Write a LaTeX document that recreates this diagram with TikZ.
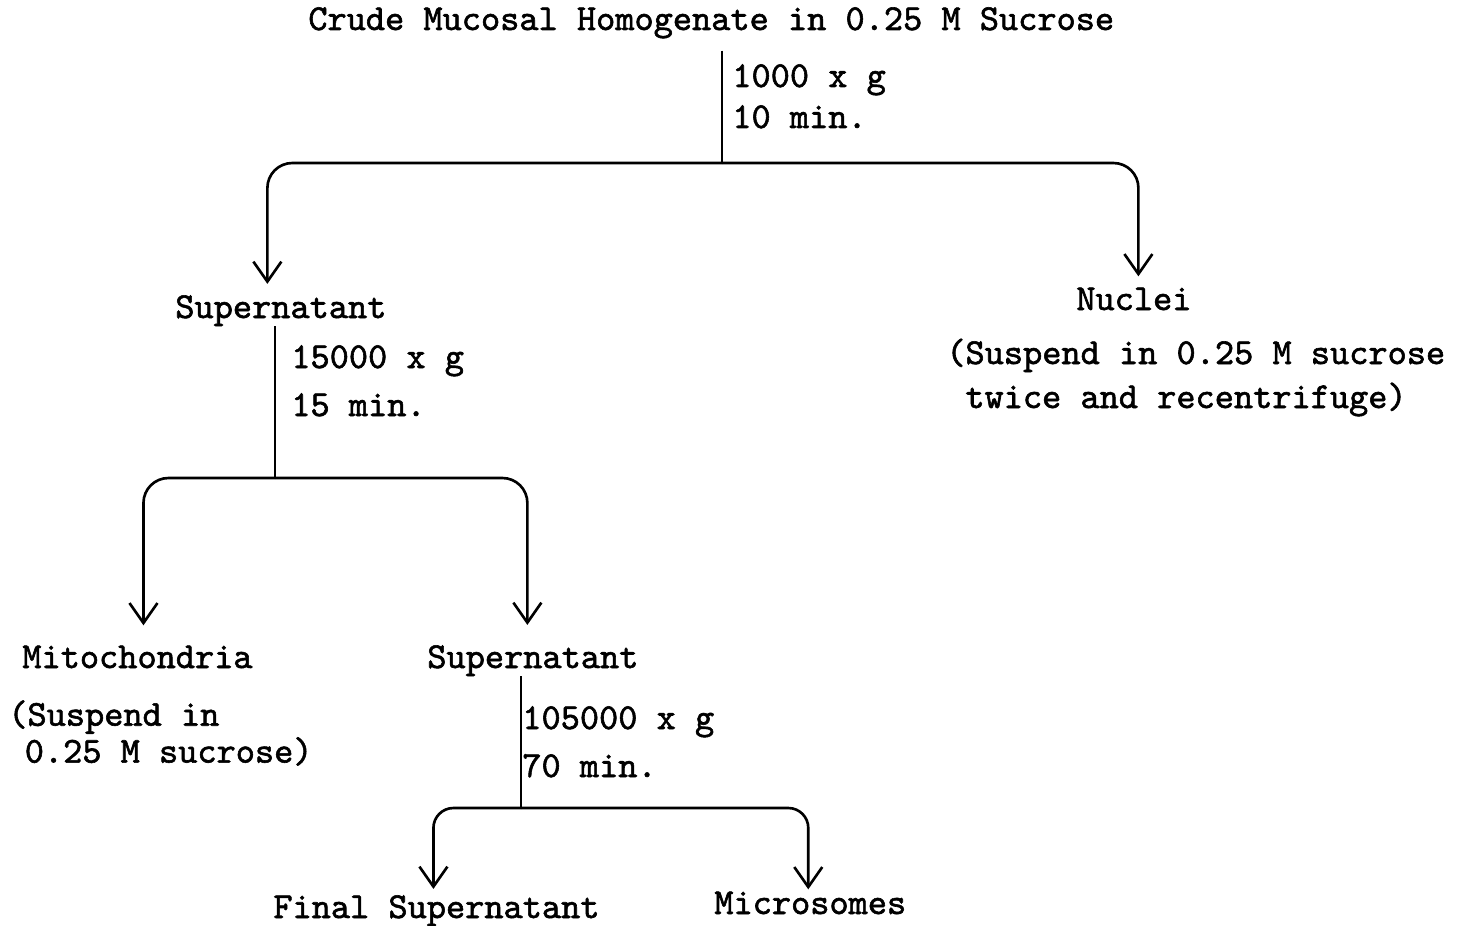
\documentclass[tikz,border=0pt]{standalone}
\usepackage{fontspec}
\usepackage{tikz}
\usetikzlibrary{arrows.meta}
\newfontfamily\typew{lmmono10-regular.otf}[FakeBold=1.6]

\begin{document}
\begin{tikzpicture}[
  x=0.02cm, y=-0.02cm,
  txt/.style={inner sep=0pt, anchor=base west, align=left,
              font=\fontsize{20.8}{25}\selectfont\typew},
  link/.style={line width=1.5pt},
  arr/.style={line width=1.5pt, rounded corners=0.5cm,
              -{Straight Barb[length=4mm, width=5.6mm, line width=1.5pt]}}]
  \useasboundingbox (0,0) rectangle (1461,926);
  % stages
  \node[txt] (crude) at (308,30) {Crude Mucosal Homogenate in 0.25 M Sucrose};
  \node[txt] (sup1) at (175,318) {Supernatant};
  \node[txt] (nuc) at (1076,310) {Nuclei};
  \node[txt] (nuc1) at (946,364) {(Suspend in 0.25 M sucrose};
  \node[txt] (nuc2) at (965,408) {twice and recentrifuge)};
  \node[txt] (mito) at (22,668) {Mitochondria};
  \node[txt, anchor=north west] (mitonote) at (8,700)
    {(Suspend in\\[-4pt]\hspace{0.45em}0.25 M sucrose)};
  \node[txt] (sup2) at (427,668) {Supernatant};
  \node[txt] (final) at (273,918) {Final Supernatant};
  \node[txt] (micro) at (714,914) {Microsomes};
  % spin conditions
  \node[txt] (g1) at (732,87) {1000 x g};
  \node[txt] (t1) at (732,128) {10 min.};
  \node[txt] (g2) at (291,368) {15000 x g};
  \node[txt] (t2) at (291,416) {15 min.};
  \node[txt] (g3) at (522,729) {105000 x g};
  \node[txt] (t3) at (522,777) {70 min.};
  % branch points
  \coordinate (j1) at (722,163);
  \coordinate (j2) at (275,478);
  \coordinate (j3) at (521,808);
  \draw[link, shorten <=0.24cm] (crude.south -| j1) -- (j1);
  \draw[link] (sup1.south -| j2) -- (j2);
  \draw[link] (sup2.south -| j3) -- (j3);
  \draw[arr] (j1) -| ([xshift=-0.27cm, yshift=0.22cm]sup1.north);
  \draw[arr] (j1) -| ([xshift=0.09cm, yshift=0.22cm]nuc.north);
  \draw[arr] (j2) -| ([xshift=0.12cm, yshift=0.4cm]mito.north);
  \draw[arr] (j2) -| ([xshift=-0.11cm, yshift=0.4cm]sup2.north);
  \draw[arr, rounded corners=0.4cm] (j3) -| ([xshift=-0.06cm, yshift=0.12cm]final.north);
  \draw[arr, rounded corners=0.4cm] (j3) -| ([xshift=-0.04cm, yshift=0.04cm]micro.north);
\end{tikzpicture}
\end{document}
